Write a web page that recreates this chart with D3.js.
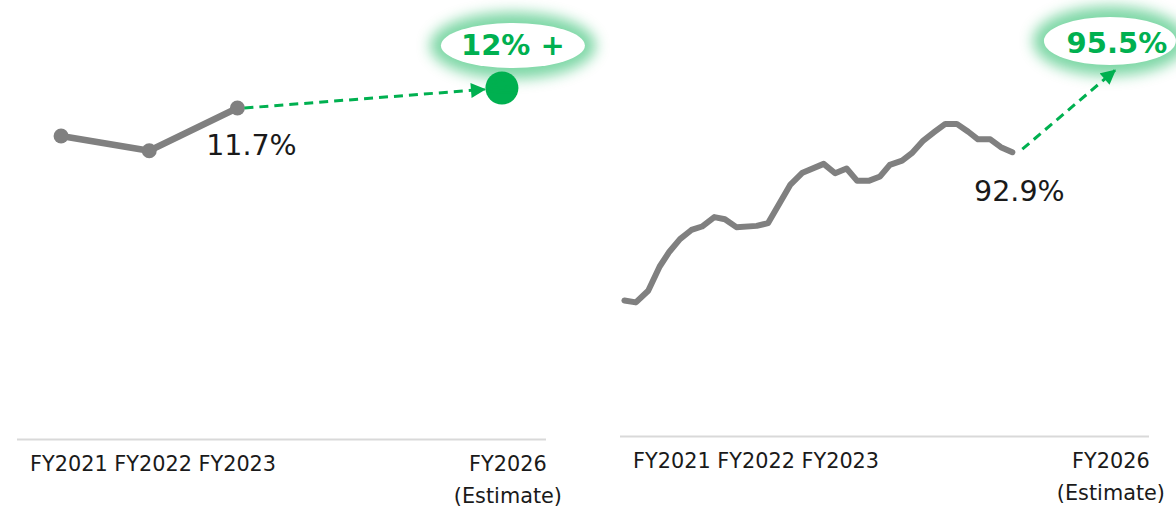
<!DOCTYPE html>
<html>
<head>
<meta charset="utf-8">
<script src="https://cdn.jsdelivr.net/npm/d3@7/dist/d3.min.js"></script>
<style>
  html, body { margin: 0; padding: 0; background: #ffffff; }
  svg { display: block; }
  text { font-family: "DejaVu Sans", Verdana, sans-serif; }
</style>
</head>
<body>
<svg id="chart" width="1176" height="508"></svg>
<script>
// Fiscal-year categories shown under each panel
const historyLabels = ["FY2021", "FY2022", "FY2023"];
const estimateLabel = ["FY2026", "(Estimate)"];
const estimateYear = 2026;

// Left panel: yearly ratio (%) and FY2026 target
const leftYears = [2021, 2022, 2023];
const leftValues = [11.28, 11.06, 11.7];
const leftTarget = 12;
const leftLatestText = "11.7%";
const leftTargetText = "12% +";

// Right panel: running ratio (%) by period (fractional fiscal year) and FY2026 target
const rightPeriods = [2020.55, 2020.68, 2020.82, 2020.95, 2021.06, 2021.18, 2021.31, 2021.43,
  2021.57, 2021.69, 2021.82, 2022.05, 2022.18, 2022.43, 2022.57, 2022.81, 2022.94, 2023.07,
  2023.19, 2023.32, 2023.45, 2023.56, 2023.70, 2023.81, 2023.94, 2024.07, 2024.19, 2024.32,
  2024.45, 2024.56, 2024.70, 2024.82, 2024.95];
const rightValues = [88.19, 88.13, 88.50, 89.27, 89.74, 90.14, 90.43, 90.54,
  90.84, 90.77, 90.52, 90.56, 90.65, 91.86, 92.25, 92.53, 92.23, 92.38,
  91.99, 91.99, 92.13, 92.50, 92.63, 92.87, 93.27, 93.55, 93.80, 93.80,
  93.55, 93.31, 93.31, 93.06, 92.90];
const rightTarget = 95.5;
const rightLatestText = "92.9%";
const rightTargetText = "95.5%";

const GREEN = "#00b050";
const GREY = "#808080";

const svg = d3.select("#chart");
const defs = svg.append("defs");

defs.append("filter").attr("id", "glow")
  .attr("x", "-50%").attr("y", "-100%").attr("width", "200%").attr("height", "300%")
  .append("feGaussianBlur").attr("stdDeviation", 7);

defs.append("marker")
  .attr("id", "arrowHead")
  .attr("viewBox", "0 0 10 10")
  .attr("refX", 9).attr("refY", 5)
  .attr("markerUnits", "userSpaceOnUse")
  .attr("markerWidth", 16).attr("markerHeight", 15)
  .attr("orient", "auto")
  .append("path").attr("d", "M0,0 L10,5 L0,10 Z").attr("fill", GREEN);

// shared horizontal frame for both panels
const x = d3.scaleLinear().domain([2020.5, 2026.5]).range([17, 546]);
const baseY = 439.5;

function drawFrame(g) {
  g.append("line")
    .attr("x1", x.range()[0]).attr("x2", x.range()[1])
    .attr("y1", baseY).attr("y2", baseY)
    .attr("stroke", "#d9d9d9").attr("stroke-width", 2);

  g.append("text")
    .attr("x", x(2021) - 31).attr("y", 471)
    .attr("font-size", 20.8).attr("fill", "#1a1a1a")
    .text(historyLabels.join(" "));

  g.selectAll("text.est").data(estimateLabel).join("text")
    .attr("class", "est")
    .attr("x", x(estimateYear) + 6)
    .attr("y", (d, i) => 471 + i * 32)
    .attr("text-anchor", "middle")
    .attr("font-size", 20.8).attr("fill", "#1a1a1a")
    .text(d => d);
}

function drawCallout(g, cx, cy, rx, ry, label, textX, textY) {
  g.append("ellipse")
    .attr("cx", cx).attr("cy", cy).attr("rx", rx + 11).attr("ry", ry + 11)
    .attr("fill", GREEN).attr("opacity", 0.5)
    .attr("filter", "url(#glow)");
  g.append("ellipse")
    .attr("cx", cx).attr("cy", cy).attr("rx", rx).attr("ry", ry)
    .attr("fill", "#ffffff");
  g.append("text")
    .attr("x", textX).attr("y", textY)
    .attr("text-anchor", "middle")
    .attr("font-size", 29).attr("font-weight", "bold")
    .attr("fill", GREEN)
    .text(label);
}

// ---------- left panel ----------
const left = svg.append("g");
const yLeft = d3.scaleLinear().domain([6.73, 13.32]).range([baseY, 0]);
drawFrame(left);

const leftPts = leftYears.map((yr, i) => [x(yr), yLeft(leftValues[i])]);
left.append("path")
  .attr("d", d3.line()(leftPts))
  .attr("fill", "none").attr("stroke", GREY)
  .attr("stroke-width", 6.5).attr("stroke-linejoin", "round");
left.selectAll("circle.pt").data(leftPts).join("circle")
  .attr("class", "pt")
  .attr("cx", d => d[0]).attr("cy", d => d[1]).attr("r", 7.5)
  .attr("fill", GREY);

const lastL = leftPts[leftPts.length - 1];
const targetL = [x(estimateYear), yLeft(leftTarget)];
const targetR = 16.5;
{
  const dx = targetL[0] - lastL[0], dy = targetL[1] - lastL[1];
  const len = Math.hypot(dx, dy);
  const tip = [targetL[0] - dx / len * (targetR + 1), targetL[1] - dy / len * (targetR + 1)];
  left.append("line")
    .attr("x1", lastL[0] + 7).attr("y1", lastL[1])
    .attr("x2", tip[0]).attr("y2", tip[1])
    .attr("stroke", GREEN).attr("stroke-width", 3)
    .attr("stroke-dasharray", "9,6")
    .attr("marker-end", "url(#arrowHead)");
}
left.append("circle")
  .attr("cx", targetL[0]).attr("cy", targetL[1]).attr("r", targetR)
  .attr("fill", GREEN);

left.append("text")
  .attr("x", lastL[0] + 14).attr("y", lastL[1] + 47)
  .attr("text-anchor", "middle")
  .attr("font-size", 28.5).attr("fill", "#1a1a1a")
  .text(leftLatestText);

drawCallout(left, x(estimateYear) + 11, 45.5, 72, 22.5, leftTargetText, x(estimateYear) + 11, 55);

// ---------- right panel ----------
const right = svg.append("g").attr("transform", "translate(603,-3)");
const yRight = d3.scaleLinear().domain([83.87, 97.83]).range([baseY, 0]);
drawFrame(right);

const rightPts = rightPeriods.map((p, i) => [x(p), yRight(rightValues[i])]);
right.append("path")
  .attr("d", d3.line()(rightPts))
  .attr("fill", "none").attr("stroke", GREY)
  .attr("stroke-width", 6)
  .attr("stroke-linejoin", "round").attr("stroke-linecap", "round");

const lastR = rightPts[rightPts.length - 1];
right.append("line")
  .attr("x1", lastR[0] + 10).attr("y1", lastR[1] - 3)
  .attr("x2", x(estimateYear) + 10).attr("y2", yRight(rightTarget))
  .attr("stroke", GREEN).attr("stroke-width", 3)
  .attr("stroke-dasharray", "9,6")
  .attr("marker-end", "url(#arrowHead)");

right.append("text")
  .attr("x", lastR[0] + 7).attr("y", lastR[1] + 49)
  .attr("text-anchor", "middle")
  .attr("font-size", 28.5).attr("fill", "#1a1a1a")
  .text(rightLatestText);

drawCallout(right, x(estimateYear) + 5, 44, 66, 24, rightTargetText, x(estimateYear) + 12, 56.3);
</script>
</body>
</html>
